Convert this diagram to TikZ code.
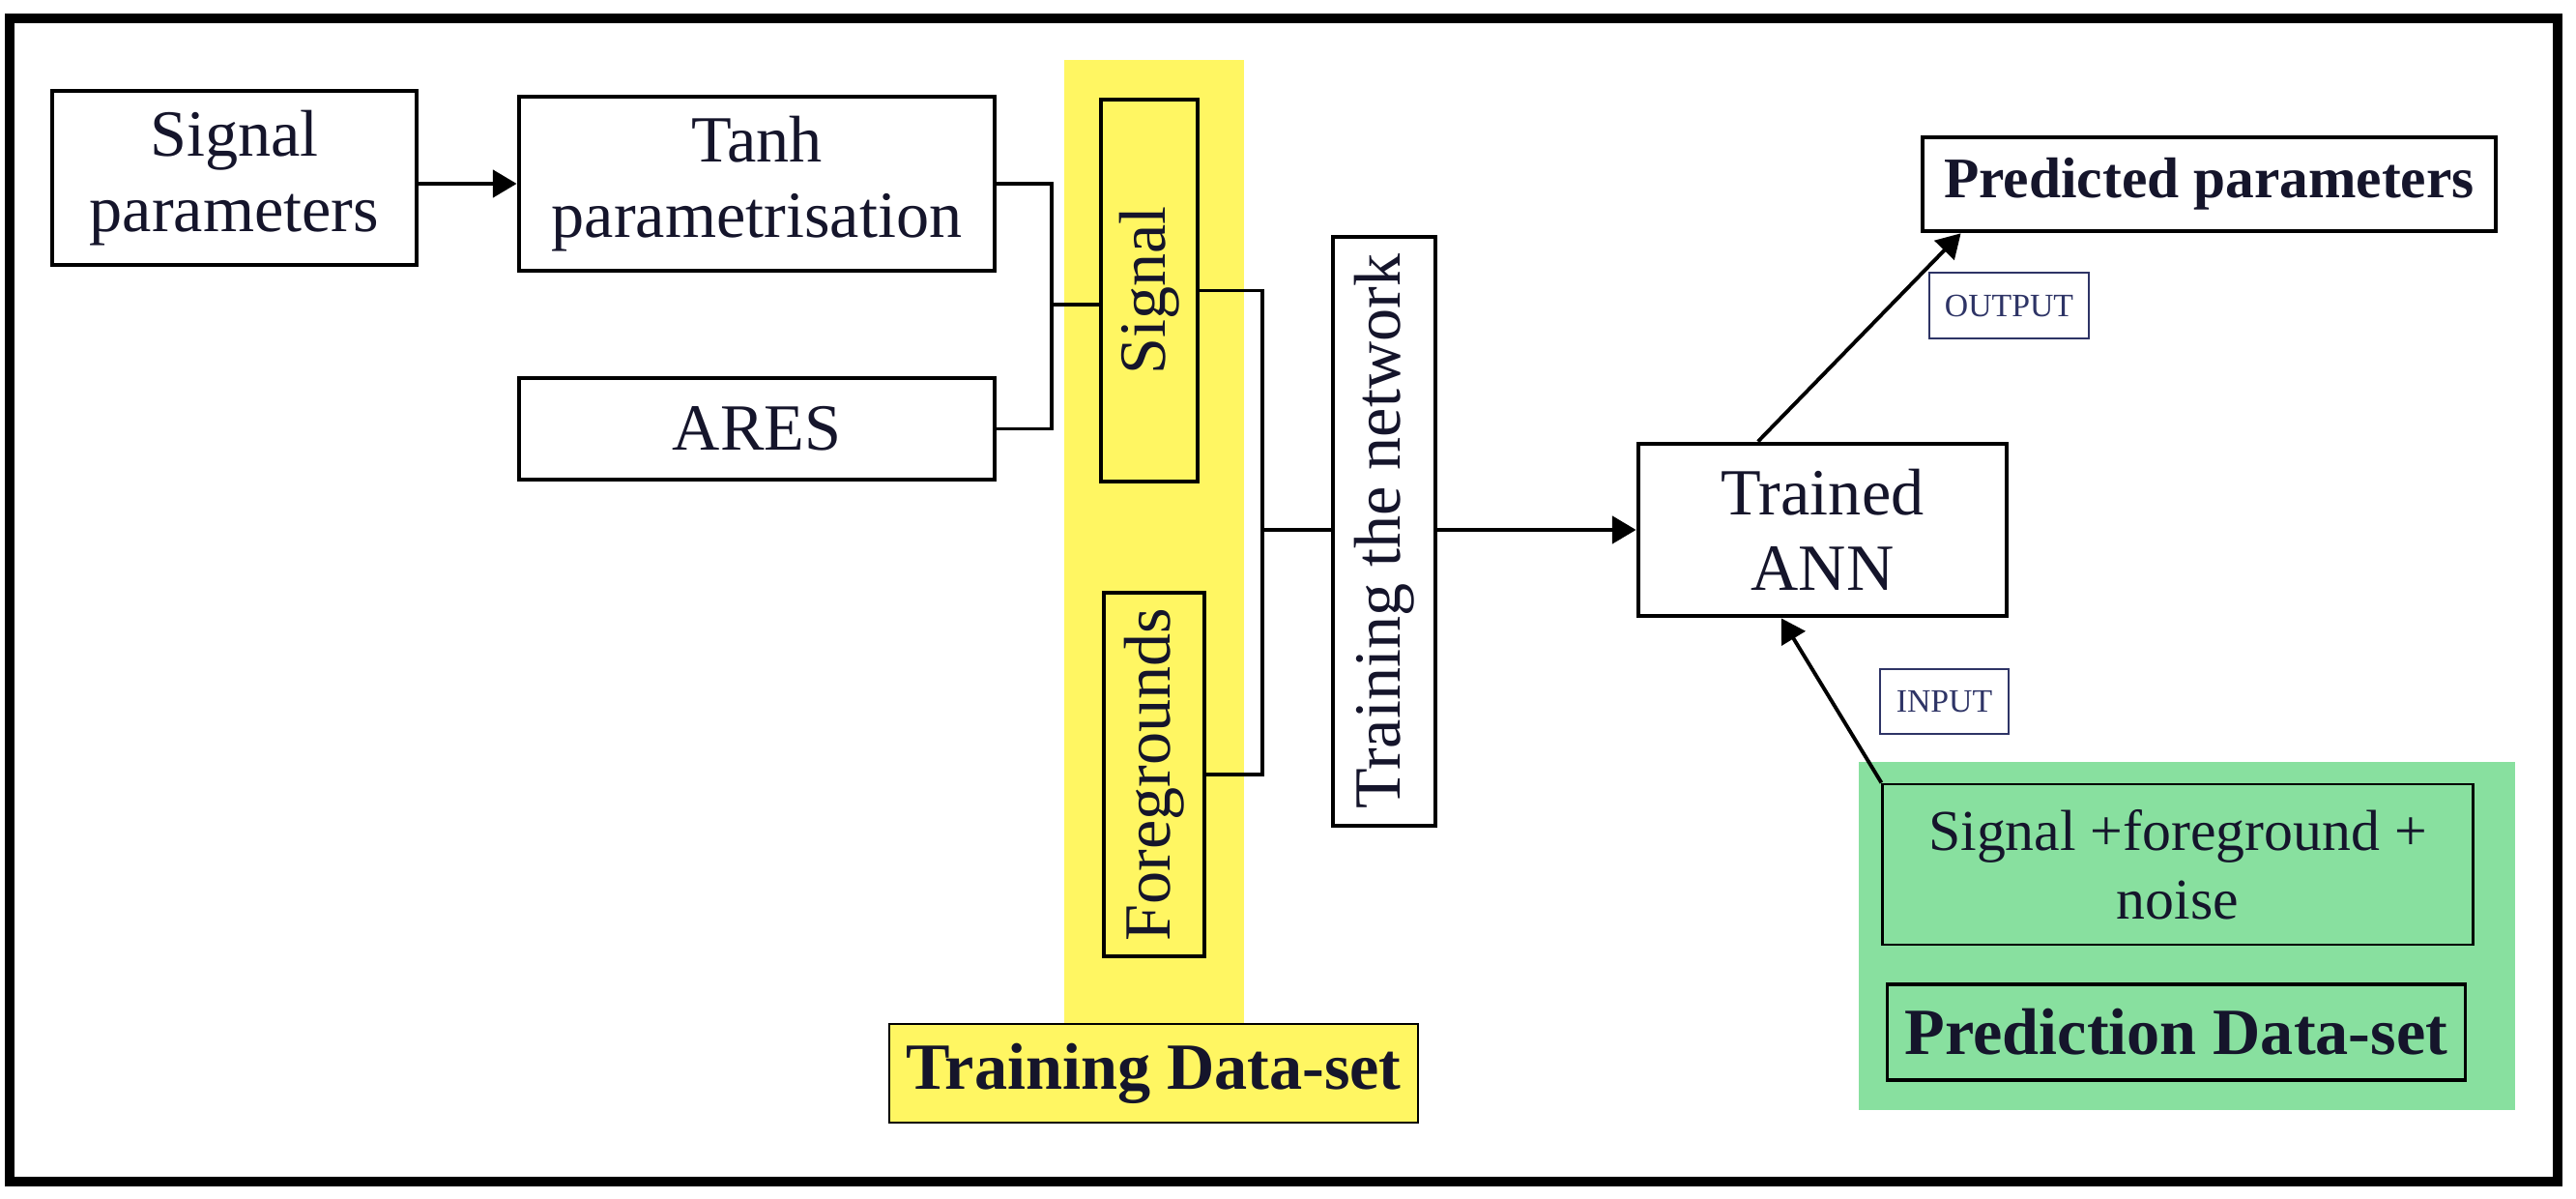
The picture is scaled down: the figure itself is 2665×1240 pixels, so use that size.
\documentclass[tikz,border=0pt]{standalone}
\usepackage{fontspec}
\usepackage{graphicx}
\setmainfont{Liberation Serif}
\usetikzlibrary{arrows.meta,calc}
\definecolor{ybg}{HTML}{FFF662}
\definecolor{gbg}{HTML}{88E09F}
\definecolor{ink}{HTML}{15152B}
\definecolor{navy}{HTML}{2E3466}
\begin{document}
\begin{tikzpicture}[x=0.01cm,y=-0.01cm,
  box/.style={draw=black,line width=1.3pt,inner sep=0pt,align=center,text=ink,font=\fontsize{19.4}{22}\selectfont},
  conn/.style={line width=1.1pt},
  arr/.style={conn,-{Triangle[length=7pt,width=8pt]}},
  tag/.style={draw=navy,line width=0.6pt,inner sep=0pt,text=navy,font=\fontsize{9.6}{11}\selectfont},
]
\useasboundingbox (0,0) rectangle (2665,1240);
\fill[white] (0,0) rectangle (2665,1240);
% backgrounds
\fill[ybg] (1101,62) rectangle (1287,1060);
\fill[gbg] (1923,788) rectangle (2602,1148);
\draw[line width=2.6pt] (10,19) rectangle (2646,1222);

% nodes
\node[box,minimum width=3.77cm,minimum height=1.80cm] (sp) at (242.5,184) {Signal\\parameters};
\node[box,minimum width=4.92cm,minimum height=1.80cm] (tanh) at (783,190) {Tanh\\parametrisation};
\node[box,minimum width=4.92cm,minimum height=1.05cm] (ares) at (783,443.5) {ARES};
\node[box,minimum width=1.00cm,minimum height=3.95cm] (sig) at (1189,300.5) {\rotatebox{90}{Signal}};
\node[box,minimum width=1.04cm,minimum height=3.76cm] (fg) at (1194,801) {\rotatebox{90}{Foregrounds}};
\node[box,minimum width=1.06cm,minimum height=6.09cm] (train) at (1432,549.5) {\rotatebox{90}{Training the network}};
\node[box,minimum width=3.81cm,minimum height=1.78cm] (ann) at (1885.5,548) {Trained\\ANN};
\node[box,minimum width=5.93cm,minimum height=0.97cm,font=\fontsize{16.9}{20}\selectfont\bfseries] (pred) at (2285.5,190.5) {Predicted parameters};
\node[tag,minimum width=1.65cm,minimum height=0.68cm] (out) at (2078.5,316) {OUTPUT};
\node[tag,minimum width=1.33cm,minimum height=0.67cm] (inp) at (2011.5,725.5) {INPUT};
\node[box,line width=0.8pt,minimum width=6.10cm,minimum height=1.66cm,font=\fontsize{17}{20.2}\selectfont] (sfn) at (2253,894) {Signal +foreground +\\noise};
\node[box,line width=0.9pt,minimum width=5.97cm,minimum height=0.99cm,font=\fontsize{19.4}{22}\selectfont\bfseries] (pds) at (2251.5,1067.5) {Prediction Data-set};
\node[box,line width=0.6pt,fill=ybg,minimum width=5.47cm,minimum height=1.02cm,font=\fontsize{19.4}{22}\selectfont\bfseries] (tds) at (1193.5,1110) {Training Data-set};

% connectors
\draw[arr] (sp.east |- tanh.west) -- (tanh.west);
\coordinate (j1) at (1088,315);
\draw[conn] (tanh.east) -| (j1) |- (ares.east);
\draw[conn] (j1) -- (j1 -| sig.west);
\coordinate (j2) at (1306,548);
\draw[conn] (sig.east) -| (j2) |- (fg.east);
\draw[conn] (j2) -- (j2 -| train.west);
\draw[arr] (train.east |- ann.west) -- (ann.west);
\draw[arr] ([xshift=1.26cm]ann.north west) -- ([xshift=0.42cm]pred.south west);
\draw[arr] (sfn.north west) -- ([xshift=1.50cm]ann.south west);
\end{tikzpicture}
\end{document}
